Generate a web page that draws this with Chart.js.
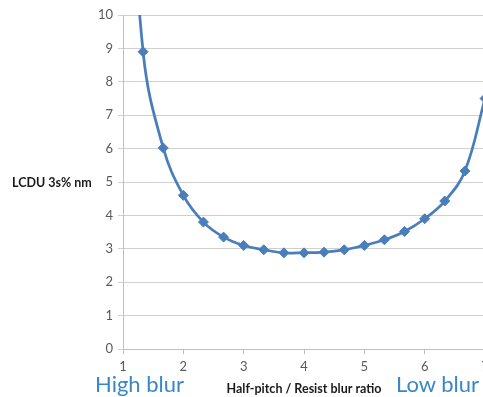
<!DOCTYPE html>
<html>
<head>
<meta charset="utf-8">
<script src="https://cdn.jsdelivr.net/npm/chart.js@4"></script>
<style>
  html, body { margin: 0; padding: 0; background: #fff; overflow: hidden; width: 483px; height: 397px; }
  #wrap { position: relative; width: 483px; height: 397px; overflow: hidden; }
  canvas { position: absolute; left: 0; top: 0; }
  .lbl { position: absolute; white-space: nowrap; font-family: Lato, "Open Sans", sans-serif; }
  #ylab { left: 12px; top: 175px; font-size: 12.5px; font-weight: bold; color: #1a1a1a; }
  #hi { left: 95px; top: 370px; font-size: 22px; color: #3a87c8; }
  #lo { left: 396px; top: 370px; font-size: 22px; color: #3a87c8; }
</style>
</head>
<body>
<div id="wrap">
  <canvas id="c" width="500" height="397"></canvas>
  <div class="lbl" id="ylab">LCDU 3s% nm</div>
  <div class="lbl" id="hi">High blur</div>
  <div class="lbl" id="lo">Low blur</div>
</div>
<script>
// Half-pitch / resist blur ratio (x) and LCDU 3s% (y)
const ratio = [1.0, 1.333, 1.667, 2.0, 2.333, 2.667, 3.0, 3.333, 3.667, 4.0, 4.333, 4.667, 5.0, 5.333, 5.667, 6.0, 6.333, 6.667, 7.0];
const lcdu  = [18.0, 8.9, 6.02, 4.6, 3.8, 3.35, 3.1, 2.97, 2.88, 2.88, 2.9, 2.97, 3.1, 3.27, 3.52, 3.9, 4.43, 5.33, 7.5];
const xTicks = [1, 2, 3, 4, 5, 6, 7];
const yTicks = [0, 1, 2, 3, 4, 5, 6, 7, 8, 9, 10];

const blue = '#4A7EBB';
const pts = ratio.map((x, i) => ({ x: x, y: lcdu[i] }));
const radii = ratio.map((x, i) => (i === 0 ? 0 : 5));

new Chart(document.getElementById('c'), {
  type: 'scatter',
  data: {
    datasets: [{
      data: pts,
      showLine: true,
      borderColor: blue,
      backgroundColor: blue,
      borderWidth: 2.75,
      tension: 0.4,
      pointStyle: 'rectRot',
      pointRadius: radii,
      pointHoverRadius: radii,
      pointBorderWidth: 1,
      clip: 0
    }]
  },
  options: {
    responsive: false,
    animation: false,
    devicePixelRatio: 1,
    layout: { padding: { left: 0, top: 15, right: 15, bottom: 0 } },
    plugins: { legend: { display: false }, tooltip: { enabled: false } },
    scales: {
      x: {
        type: 'linear',
        min: 1, max: 7,
        afterFit: s => { s.height = 48; },
        afterBuildTicks: s => { s.ticks = xTicks.map(v => ({ value: v })); },
        grid: { drawOnChartArea: false, drawTicks: true, tickLength: 5, color: '#bfbfbf' },
        border: { color: '#bfbfbf', width: 1 },
        ticks: { color: '#595959', font: { family: 'Lato', size: 13 }, padding: 5, maxRotation: 0 },
        title: {
          display: true,
          text: 'Half-pitch / Resist blur ratio',
          color: '#1a1a1a',
          font: { family: 'Lato', size: 12.5, weight: 'bold' },
          padding: { top: 0, bottom: 1 }
        }
      },
      y: {
        type: 'linear',
        min: 0, max: 10,
        afterFit: s => { s.width = 123; },
        afterBuildTicks: s => { s.ticks = yTicks.map(v => ({ value: v })); },
        grid: { color: '#d0d0d0', lineWidth: 1, drawTicks: true, tickLength: 5 },
        border: { color: '#bfbfbf', width: 1 },
        ticks: { color: '#595959', font: { family: 'Lato', size: 13 }, padding: 5 }
      }
    }
  }
});
</script>
</body>
</html>
